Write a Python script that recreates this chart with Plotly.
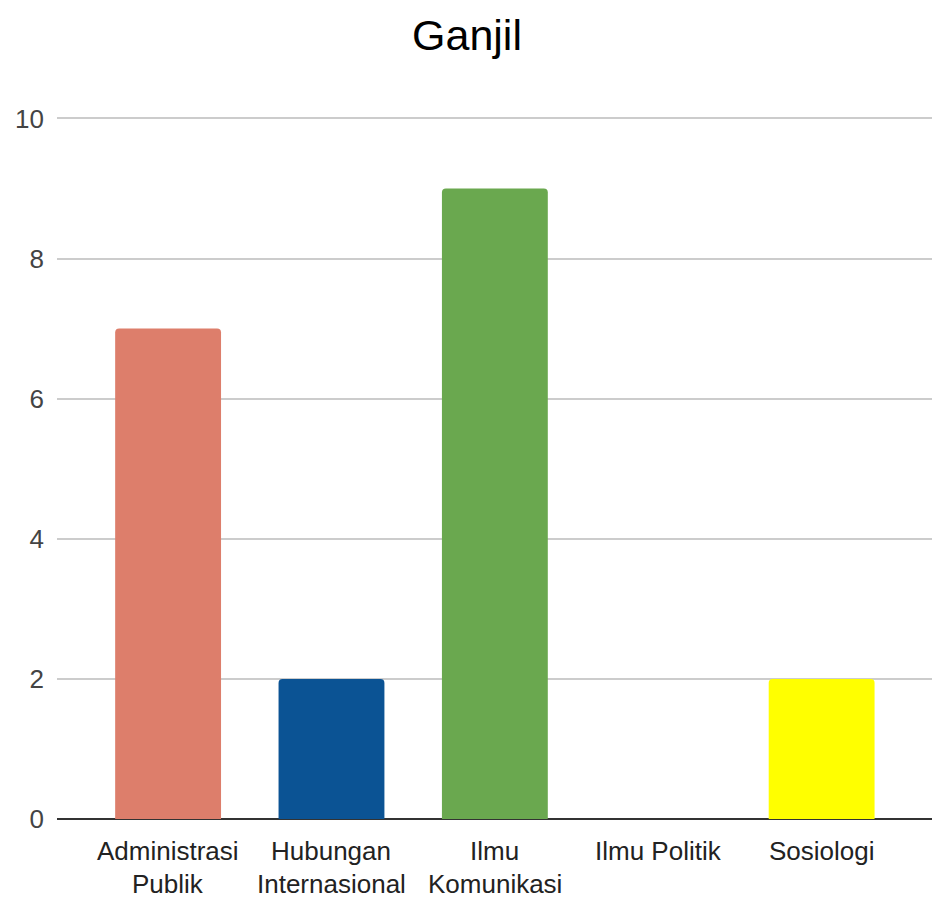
import plotly.graph_objects as go

categories = ["Administrasi Publik", "Hubungan Internasional", "Ilmu Komunikasi", "Ilmu Politik", "Sosiologi"]
label_lines = [["Administrasi", "Publik"], ["Hubungan", "Internasional"], ["Ilmu", "Komunikasi"], ["Ilmu Politik"], ["Sosiologi"]]
values = [7, 2, 9, 0, 2]
colors = ["#dd7e6b", "#0b5394", "#6aa84f", "#999999", "#ffff00"]
y_ticks = [0, 2, 4, 6, 8, 10]
title_text = "Ganjil"

FONT = "Liberation Sans, Arial, sans-serif"

fig = go.Figure(go.Bar(
    x=categories, y=values,
    marker=dict(color=colors, line=dict(width=0)),
))

annotations = []
for cat, lines in zip(categories, label_lines):
    for i, ln in enumerate(lines):
        annotations.append(dict(
            x=cat, xref="x", y=0, yref="paper",
            text=ln, showarrow=False, xanchor="center", yanchor="middle",
            yshift=-32 - 33 * i,
            font=dict(family=FONT, size=26, color="#222222"),
        ))

fig.update_layout(
    width=932, height=896,
    margin=dict(l=49, r=4, t=109, b=84.5, autoexpand=False),
    paper_bgcolor="white", plot_bgcolor="white",
    title=dict(text=title_text, x=459 / 932, xanchor="center", y=1 - 27 / 896, yanchor="middle",
               font=dict(family=FONT, size=43, color="#000000")),
    bargap=0.352,
    barcornerradius=4,
    showlegend=False,
    annotations=annotations,
    xaxis=dict(range=[-0.68, 4.7], showticklabels=False, showgrid=False, zeroline=False,
               showline=False, ticks="", automargin=False),
    yaxis=dict(range=[0, 10.02], tickvals=y_ticks, ticktext=[str(v) for v in y_ticks],
               showgrid=True, gridcolor="#cccccc", gridwidth=1.5,
               zeroline=True, zerolinecolor="#333333", zerolinewidth=2,
               showline=False, ticks="", ticklabelstandoff=12, automargin=False,
               tickfont=dict(family=FONT, size=26, color="#444444")),
)

fig.write_html("out.html")
